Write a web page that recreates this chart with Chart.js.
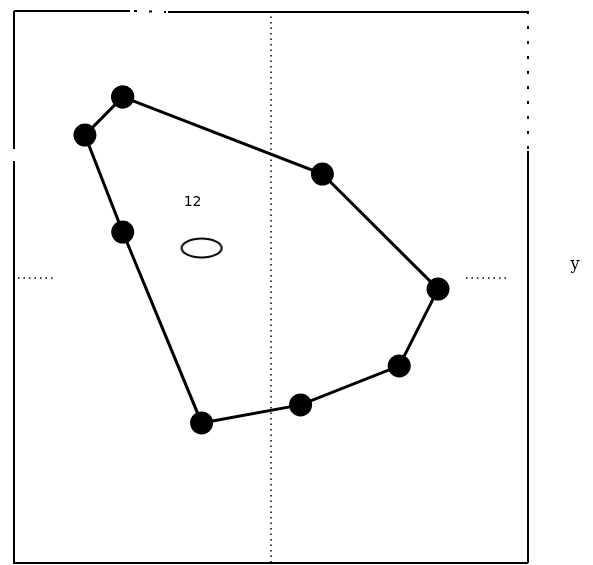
<!DOCTYPE html>
<html>
<head>
<meta charset="utf-8">
<script src="https://cdn.jsdelivr.net/npm/chart.js@4/dist/chart.umd.min.js"></script>
<style>
  html, body { margin: 0; padding: 0; background: #fff; overflow: hidden; }
  canvas { display: block; }
</style>
</head>
<body>
<canvas id="c" width="593" height="565" style="width:593px;height:565px"></canvas>
<script>
// Polygon vertices (data units), traced in drawing order
const polyX = [-5.77, -7.24, -5.77, -2.70, 1.15, 4.99, 6.50, 2.00];
const polyY = [7.02, 5.54, 1.78, -5.62, -4.92, -3.41, -0.43, 4.03];
// Ellipse marker (centroid) and its label
const ellipseX = [-2.70];
const ellipseY = [1.16];
const labelX = [-3.05];
const labelY = [2.95];
const labelText = ["12"];
const axisLabel = "y";

const polyData = polyX.map((x, i) => ({ x: x, y: polyY[i] }));
polyData.push({ x: polyX[0], y: polyY[0] });

// ellipse point style
const ell = document.createElement('canvas');
ell.width = 46; ell.height = 26;
{
  const g = ell.getContext('2d');
  g.strokeStyle = '#000';
  g.lineWidth = 2;
  g.beginPath();
  g.ellipse(23, 13, 20, 9.5, 0, 0, Math.PI * 2);
  g.stroke();
}

const framePlugin = {
  id: 'frame',
  beforeDatasetsDraw(chart) {
    const { ctx, chartArea: a, scales } = chart;
    const x0 = scales.x.getPixelForValue(0);
    const y0 = scales.y.getPixelForValue(0);
    ctx.save();
    ctx.strokeStyle = '#000';
    // dotted reference lines
    ctx.lineWidth = 1.5;
    ctx.setLineDash([1.5, 4]);
    ctx.beginPath();
    ctx.moveTo(x0, a.top); ctx.lineTo(x0, a.bottom);
    ctx.moveTo(a.left + 4, y0); ctx.lineTo(a.left + 42, y0);
    ctx.moveTo(a.right - 62, y0); ctx.lineTo(a.right - 22, y0);
    ctx.stroke();
    ctx.setLineDash([]);
    // frame
    ctx.lineWidth = 2;
    ctx.beginPath();
    ctx.moveTo(a.left, a.top); ctx.lineTo(a.left + 116, a.top);
    ctx.moveTo(a.left + 154, a.top + 1); ctx.lineTo(a.right, a.top + 1);
    ctx.moveTo(a.left, a.top); ctx.lineTo(a.left, a.top + 138);
    ctx.moveTo(a.left, a.top + 150); ctx.lineTo(a.left, a.bottom);
    ctx.lineTo(a.right, a.bottom);
    ctx.moveTo(a.right, a.top + 140); ctx.lineTo(a.right, a.bottom);
    ctx.stroke();
    ctx.setLineDash([3, 12]);
    ctx.beginPath();
    ctx.moveTo(a.right, a.top); ctx.lineTo(a.right, a.top + 140);
    ctx.moveTo(a.left + 120, a.top); ctx.lineTo(a.left + 152, a.top + 1);
    ctx.stroke();
    ctx.setLineDash([]);
    // text
    ctx.fillStyle = '#000';
    ctx.font = '14px "DejaVu Sans", sans-serif';
    ctx.textAlign = 'center';
    ctx.textBaseline = 'middle';
    labelText.forEach((t, i) => {
      ctx.fillText(t, scales.x.getPixelForValue(labelX[i]), scales.y.getPixelForValue(labelY[i]));
    });
    ctx.font = '16px "DejaVu Serif", serif';
    ctx.fillText(axisLabel, a.right + 47, (a.top + a.bottom) / 2 - 22);
    ctx.restore();
  }
};

new Chart(document.getElementById('c'), {
  type: 'scatter',
  data: {
    datasets: [
      {
        data: polyData,
        showLine: true,
        borderColor: '#000',
        borderWidth: 3,
        backgroundColor: '#000',
        pointBackgroundColor: '#000',
        pointBorderColor: '#000',
        pointRadius: 10,
        pointHoverRadius: 10,
        tension: 0
      },
      {
        data: ellipseX.map((x, i) => ({ x: x, y: ellipseY[i] })),
        pointStyle: ell,
        showLine: false
      }
    ]
  },
  options: {
    responsive: false,
    animation: false,
    devicePixelRatio: 1,
    layout: { autoPadding: false, padding: { left: 14, top: 11, right: 65, bottom: 2 } },
    plugins: { legend: { display: false }, tooltip: { enabled: false } },
    scales: {
      x: { type: 'linear', min: -10, max: 10, display: false },
      y: { type: 'linear', min: -11.05, max: 10.35, display: false }
    }
  },
  plugins: [framePlugin]
});
</script>
</body>
</html>
